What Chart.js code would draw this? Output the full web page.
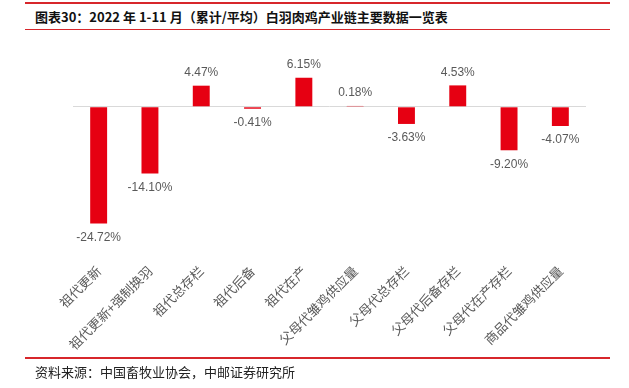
<!DOCTYPE html>
<html>
<head>
<meta charset="utf-8">
<script src="https://cdn.jsdelivr.net/npm/chart.js@4/dist/chart.umd.min.js"></script>
<style>
  html, body { margin: 0; padding: 0; background: #fff; }
  body { width: 629px; height: 388px; position: relative; overflow: hidden; }
  .line { position: absolute; left: 25px; width: 585px; background: #d7262b; }
  #title { position: absolute; left: 35px; top: 7px; font: bold 13px "Noto Sans CJK SC", sans-serif; color: #111; white-space: nowrap; line-height: 20px; }
  #source { position: absolute; left: 35px; top: 362px; font: 13px "Noto Sans CJK SC", sans-serif; color: #222; white-space: nowrap; line-height: 19px; }
  #wrap { position: absolute; left: 0; top: 0; width: 629px; height: 388px; }
</style>
</head>
<body>
<div class="line" style="top:2px;height:2px;"></div>
<div id="title">图表30：2022 年 1-11 月（累计/平均）白羽肉鸡产业链主要数据一览表</div>
<div class="line" style="top:29px;height:1px;"></div>
<div id="wrap"><canvas id="c" width="629" height="388"></canvas></div>
<div class="line" style="top:357px;height:1.5px;"></div>
<div id="source">资料来源：中国畜牧业协会，中邮证券研究所</div>
<script>
const categories = ['祖代更新', '祖代更新+强制换羽', '祖代总存栏', '祖代后备', '祖代在产', '父母代雏鸡供应量', '父母代总存栏', '父母代后备存栏', '父母代在产存栏', '商品代雏鸡供应量'];
const values = [-24.72, -14.10, 4.47, -0.41, 6.15, 0.18, -3.63, 4.53, -9.20, -4.07];
const yMin = -32;
const yMax = 8;

const labelPlugin = {
  id: 'valueLabels',
  afterDatasetsDraw(chart) {
    const ctx = chart.ctx;
    const meta = chart.getDatasetMeta(0);
    ctx.save();
    ctx.font = '12px "Liberation Sans", Arial, sans-serif';
    ctx.fillStyle = '#595959';
    ctx.textAlign = 'center';
    meta.data.forEach((bar, i) => {
      const v = values[i];
      const txt = v.toFixed(2) + '%';
      if (v >= 0) {
        ctx.textBaseline = 'bottom';
        ctx.fillText(txt, bar.x, Math.min(bar.y, bar.base) - 7);
      } else {
        ctx.textBaseline = 'top';
        ctx.fillText(txt, bar.x, Math.max(bar.y, bar.base) + 8);
      }
    });
    ctx.restore();
  }
};

new Chart(document.getElementById('c'), {
  type: 'bar',
  data: {
    labels: categories,
    datasets: [{
      data: values,
      backgroundColor: '#e60012',
      borderWidth: 0,
      barPercentage: 0.33,
      categoryPercentage: 1
    }]
  },
  options: {
    responsive: false,
    devicePixelRatio: 1,
    animation: false,
    layout: { padding: { left: 73, right: 43, top: 69, bottom: 0 } },
    plugins: { legend: { display: false }, tooltip: { enabled: false }, title: { display: false } },
    scales: {
      x: {
        grid: { display: false, drawTicks: false },
        border: { display: false },
        ticks: {
          minRotation: 45, maxRotation: 45, autoSkip: false, padding: 5,
          color: '#595959',
          font: { family: '"Noto Sans CJK SC", sans-serif', size: 13 }
        },
        afterFit(s) { s.height = 130; }
      },
      y: {
        min: yMin, max: yMax,
        grid: {
          drawTicks: false,
          color: (c) => (c.tick && c.tick.value === 0 ? '#d9d9d9' : 'rgba(0,0,0,0)'),
          lineWidth: 1
        },
        border: { display: false },
        ticks: { display: false, stepSize: 4 },
        afterFit(s) { s.width = 0; }
      }
    }
  },
  plugins: [labelPlugin]
});
</script>
</body>
</html>
